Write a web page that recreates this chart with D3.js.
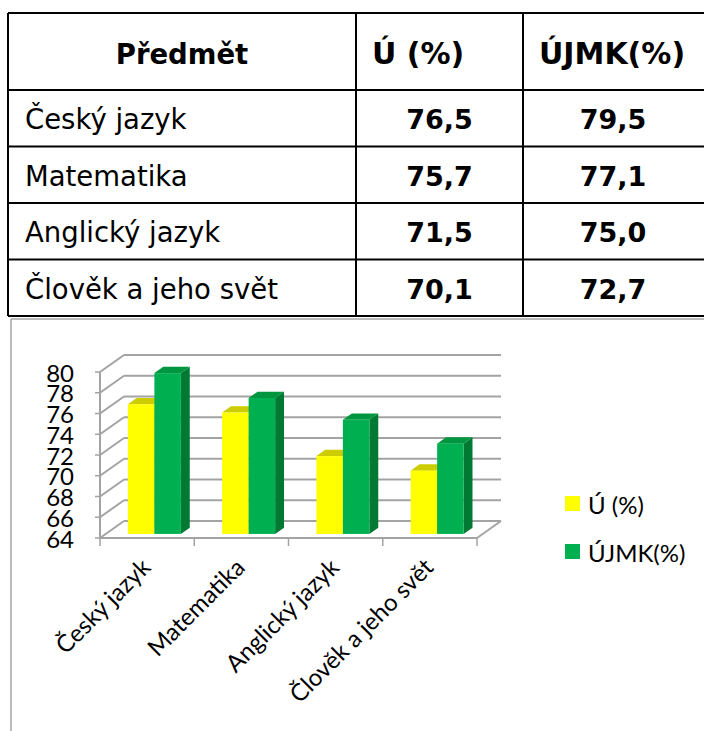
<!DOCTYPE html>
<html lang="cs">
<head>
<meta charset="UTF-8">
<script src="https://d3js.org/d3.v7.min.js"></script>
<title>Předmět - Ú / ÚJMK</title>
<style>
body { margin: 0; background: #fff; }
</style>
</head>
<body>
<svg id="vis" width="704" height="731"></svg>
<script>
// data
var headers = ["Předmět", "Ú (%)", "ÚJMK(%)"];
var subjects = ["Český jazyk", "Matematika", "Anglický jazyk", "Člověk a jeho svět"];
var valU = [76.5, 75.7, 71.5, 70.1];
var valUJMK = [79.5, 77.1, 75.0, 72.7];
var seriesNames = ["Ú (%)", "ÚJMK(%)"];
var seriesColors = ["#ffff00", "#00b050"];
var topColors = ["#cccc00", "#00963f"];
var sideColors = ["#b8b800", "#007a33"];
var yTicks = [64, 66, 68, 70, 72, 74, 76, 78, 80];

var svg = d3.select("#vis");
var fmt = d3.formatLocale({decimal: ",", thousands: " ", grouping: [3], currency: ["", " Kč"]}).format(".1f");

// ---------- tabulka ----------
var colX = [8, 356, 523, 706];
var tableTop = 13, headBottom = 90, tableBottom = 316;
var rowScale = d3.scaleBand().domain(subjects).range([headBottom, tableBottom]);
var tabFont = "'DejaVu Sans', Verdana, sans-serif";

var gTab = svg.append("g");
var hLines = [tableTop, headBottom].concat(subjects.map(function(s) { return rowScale(s) + rowScale.bandwidth(); }));
gTab.selectAll("line.h").data(hLines).join("line")
  .attr("x1", colX[0]).attr("x2", colX[3])
  .attr("y1", function(d) { return d; }).attr("y2", function(d) { return d; })
  .attr("stroke", "#000").attr("stroke-width", 2);
gTab.selectAll("line.v").data(colX).join("line")
  .attr("x1", function(d) { return d; }).attr("x2", function(d) { return d; })
  .attr("y1", tableTop).attr("y2", tableBottom)
  .attr("stroke", "#000").attr("stroke-width", 2);

// záhlaví: první sloupec na střed, ostatní zleva
gTab.selectAll("text.head").data(headers).join("text")
  .attr("x", function(d, i) { return i == 0 ? (colX[0] + colX[1]) / 2 : colX[i] + 16; })
  .attr("y", 64)
  .attr("text-anchor", function(d, i) { return i == 0 ? "middle" : "start"; })
  .attr("font-family", tabFont).attr("font-weight", "bold")
  .attr("font-size", function(d, i) { return i == 0 ? 27.5 : 30; })
  .text(function(d) { return d; });

subjects.forEach(function(s, i) {
  var yb = rowScale(s) + rowScale.bandwidth() / 2 + 11;
  gTab.append("text").attr("x", 25).attr("y", yb)
    .attr("font-family", tabFont).attr("font-size", 27.5).text(s);
  gTab.append("text").attr("x", (colX[1] + colX[2]) / 2).attr("y", yb)
    .attr("text-anchor", "middle").attr("font-family", tabFont)
    .attr("font-weight", "bold").attr("font-size", 27).text(fmt(valU[i]));
  gTab.append("text").attr("x", 613).attr("y", yb)
    .attr("text-anchor", "middle").attr("font-family", tabFont)
    .attr("font-weight", "bold").attr("font-size", 27).text(fmt(valUJMK[i]));
});

// ---------- graf ----------
var chFont = "Lato, 'Liberation Sans', sans-serif";
var gChart = svg.append("g");
gChart.append("line").attr("x1", 11).attr("x2", 704).attr("y1", 319).attr("y2", 319)
  .attr("stroke", "#a6a6a6").attr("stroke-width", 1.5);
gChart.append("line").attr("x1", 11).attr("x2", 11).attr("y1", 319).attr("y2", 731)
  .attr("stroke", "#a6a6a6").attr("stroke-width", 1.5);

var x = d3.scaleBand().domain(subjects).range([100, 477]);
var y = d3.scaleLinear().domain([64, 80]).range([538, 372]);
var dx = 24, dy = -17;       // hloubka 3D
var x0 = x.range()[0], x1 = x.range()[1];
var grid = "#a3a3a3";

// zadní stěna + boční stěna
yTicks.forEach(function(t) {
  gChart.append("line").attr("x1", x0 + dx).attr("x2", x1 + dx)
    .attr("y1", y(t) + dy).attr("y2", y(t) + dy)
    .attr("stroke", grid).attr("stroke-width", 2);
  gChart.append("line").attr("x1", x0).attr("x2", x0 + dx)
    .attr("y1", y(t)).attr("y2", y(t) + dy)
    .attr("stroke", grid).attr("stroke-width", 2);
  gChart.append("line").attr("x1", x0 - 5).attr("x2", x0)
    .attr("y1", y(t)).attr("y2", y(t))
    .attr("stroke", grid).attr("stroke-width", 1.5);
  gChart.append("text").attr("x", 74).attr("y", y(t))
    .attr("dominant-baseline", "central").attr("text-anchor", "end")
    .attr("font-family", chFont).attr("font-size", 24).attr("fill", "#000")
    .text(t);
});
// podlaha
gChart.append("line").attr("x1", x0).attr("x2", x1).attr("y1", y(64)).attr("y2", y(64))
  .attr("stroke", grid).attr("stroke-width", 2);
gChart.append("line").attr("x1", x1).attr("x2", x1 + dx).attr("y1", y(64)).attr("y2", y(64) + dy)
  .attr("stroke", grid).attr("stroke-width", 2);
gChart.append("line").attr("x1", x0).attr("x2", x0).attr("y1", y(80)).attr("y2", y(64))
  .attr("stroke", grid).attr("stroke-width", 2);
subjects.map(function(s) { return x(s); }).concat([x1]).forEach(function(px) {
  gChart.append("line").attr("x1", px).attr("x2", px).attr("y1", y(64)).attr("y2", y(64) + 8)
    .attr("stroke", grid).attr("stroke-width", 1.5);
});

// sloupce
var f0 = 0.24, f1 = 0.61;
var barW = 26.5;
var ddx = dx * (f1 - f0), ddy = dy * (f1 - f0);
var series = [valU, valUJMK];
var gBars = gChart.append("g");
subjects.forEach(function(s, i) {
  var gs = x(s) + (x.bandwidth() - 2 * barW) / 2 + 1.5 + dx * f0;
  series.forEach(function(vals, k) {
    var bx = gs + k * barW;
    var top = y(vals[i]) + dy * f0;
    var bottom = y(64) + dy * f0;
    gBars.append("polygon")
      .attr("points", [[bx + barW, top], [bx + barW + ddx, top + ddy], [bx + barW + ddx, bottom + ddy], [bx + barW, bottom]].join(" "))
      .attr("fill", sideColors[k]);
    gBars.append("polygon")
      .attr("points", [[bx, top], [bx + barW, top], [bx + barW + ddx, top + ddy], [bx + ddx, top + ddy]].join(" "))
      .attr("fill", topColors[k]);
    gBars.append("rect").attr("x", bx).attr("y", top)
      .attr("width", barW).attr("height", bottom - top)
      .attr("fill", seriesColors[k]);
  });
});

// popisky kategorií
subjects.forEach(function(s) {
  var cx = x(s) + x.bandwidth() / 2 + 5;
  gChart.append("text")
    .attr("transform", "translate(" + cx + ",569) rotate(-45)")
    .attr("text-anchor", "end")
    .attr("font-family", chFont).attr("font-size", 24)
    .text(s);
});

// legenda
seriesNames.forEach(function(n, k) {
  gChart.append("rect").attr("x", 565).attr("y", 496 + k * 48)
    .attr("width", 15).attr("height", 15).attr("fill", seriesColors[k]);
  gChart.append("text").attr("x", 588).attr("y", 504 + k * 48)
    .attr("dominant-baseline", "central")
    .attr("font-family", chFont).attr("font-size", 24)
    .text(n);
});
</script>
</body>
</html>
